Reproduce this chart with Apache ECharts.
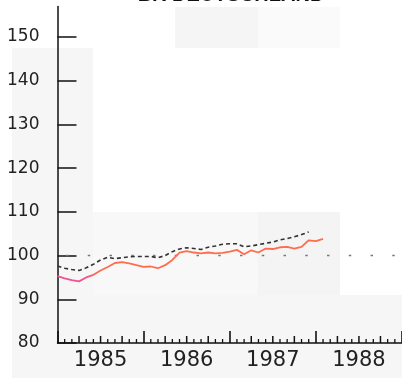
<!DOCTYPE html>
<html>
<head>
<meta charset="utf-8">
<script src="https://cdn.jsdelivr.net/npm/echarts@6/dist/echarts.min.js"></script>
<style>
html,body{margin:0;padding:0;background:#fff}
#wrap{position:relative;width:402px;height:381px;overflow:hidden;background:#fff}
#c{position:absolute;left:0;top:0;width:402px;height:381px}
.bg{position:absolute}
</style>
</head>
<body>
<div id="wrap">
<div class="bg" style="left:12px;top:48px;width:81px;height:330px;background:#f6f6f6"></div>
<div class="bg" style="left:175px;top:7px;width:83px;height:41px;background:#f5f5f5"></div>
<div class="bg" style="left:258px;top:7px;width:82px;height:41px;background:#fafafa"></div>
<div class="bg" style="left:93px;top:212px;width:165px;height:83px;background:#f8f8f8"></div>
<div class="bg" style="left:258px;top:212px;width:82px;height:83px;background:#f4f4f4"></div>
<div class="bg" style="left:93px;top:295px;width:309px;height:83px;background:#f6f6f6"></div>
<div id="c"></div>
</div>
<script>
const title = 'BR DEUTSCHLAND';
const years = ['1985', '1986', '1987', '1988'];
const yTicks = [80, 90, 100, 110, 120, 130, 140, 150];
// monthly index values, month 0 = Jan 1985
const redSeries = [95.3, 94.8, 94.4, 94.1, 95.0, 95.6, 96.6, 97.4, 98.3, 98.5, 98.2, 97.8,
  97.4, 97.5, 97.1, 97.8, 99.0, 100.7, 101.0, 100.7, 100.5, 100.7, 100.5, 100.6,
  100.9, 101.3, 100.3, 101.2, 100.7, 101.6, 101.5, 101.9, 102.0, 101.6, 102.0, 103.5,
  103.3, 103.8];
const dashedSeries = [97.6, 97.1, 96.8, 96.6, 97.2, 98.0, 99.0, 99.6, 99.3, 99.5, 99.7, 99.8,
  99.8, 99.8, 99.5, 100.0, 100.9, 101.5, 101.8, 101.6, 101.4, 101.9, 102.2, 102.6,
  102.7, 102.7, 102.0, 102.2, 102.5, 102.8, 103.1, 103.6, 103.9, 104.3, 104.8, 105.4];
const baseLevel = 100;
const baseRange = [0, 48];
const axisFloor = 80;
// month tick positions along the time axis (months since Jan 1985)
const monthTicks = Array.from({length: 48}, (_, i) => i).filter(i => i % 12 !== 0);

const chart = echarts.init(document.getElementById('c'), null, {renderer: 'canvas'});
const toPts = arr => arr.map((v, i) => [i, v]);
chart.setOption({
  animation: false,
  backgroundColor: 'transparent',
  grid: {left: 57.5, right: -3.5, top: 6.4, bottom: 38, containLabel: false},
  graphic: [{
    type: 'text', x: 231, y: -4.5, z: 100,
    style: {text: title, font: 'bold 20px "Liberation Sans", Arial, sans-serif', fill: '#111',
      align: 'center', verticalAlign: 'middle'}
  }],
  xAxis: [{
    type: 'value', min: 0, max: 48, interval: 12, position: 'bottom',
    axisLine: {show: false}, axisTick: {show: false}, axisLabel: {show: false}, splitLine: {show: false}
  }, {
    type: 'category', data: years, boundaryGap: true, position: 'bottom',
    axisLine: {show: true, lineStyle: {color: '#111', width: 1.5}},
    axisTick: {show: true, inside: true, length: 12, lineStyle: {color: '#111', width: 1.6}},
    axisLabel: {show: true, margin: 7, fontSize: 21, color: '#222', fontFamily: 'DejaVu Sans'},
    splitLine: {show: false}
  }],
  yAxis: {
    type: 'value', min: 80, max: 157, interval: 10,
    axisLine: {show: true, lineStyle: {color: '#111', width: 1.5}},
    axisTick: {show: true, inside: true, length: 19, customValues: yTicks, lineStyle: {color: '#111', width: 1.5}},
    axisLabel: {show: true, customValues: yTicks, margin: 18, fontSize: 17, color: '#222',
      fontFamily: 'DejaVu Sans', padding: [0, 0, 6, 0]},
    splitLine: {show: false}
  },
  series: [{
    type: 'custom', xAxisIndex: 0, silent: true, clip: false, z: 5,
    data: monthTicks,
    encode: {x: 0},
    renderItem: function (params, api) {
      const m = api.value(0);
      const p = api.coord([m, axisFloor]);
      const len = (m % 3 === 0) ? 7 : 4;
      return {
        type: 'line',
        shape: {x1: p[0], y1: p[1], x2: p[0], y2: p[1] - len},
        style: {stroke: '#111', lineWidth: (m % 3 === 0) ? 1.5 : 1.3}
      };
    }
  }, {
    type: 'line', xAxisIndex: 0, data: [[baseRange[0], baseLevel], [baseRange[1], baseLevel]],
    symbol: 'none', silent: true,
    lineStyle: {color: '#777', width: 1.5, type: [2.5, 19.25], dashOffset: 13.25}
  }, {
    type: 'line', xAxisIndex: 0, data: toPts(dashedSeries), symbol: 'none',
    lineStyle: {color: '#333', width: 1.6, type: [4, 3]}
  }, {
    type: 'line', xAxisIndex: 0, data: toPts(redSeries), symbol: 'none',
    lineStyle: {width: 1.8, color: new echarts.graphic.LinearGradient(0, 0, 1, 0, [
      {offset: 0, color: '#ee5098'}, {offset: 0.11, color: '#f0548f'},
      {offset: 0.16, color: '#ff6d4c'}, {offset: 1, color: '#ff6d4c'}])}
  }]
});
</script>
</body>
</html>
